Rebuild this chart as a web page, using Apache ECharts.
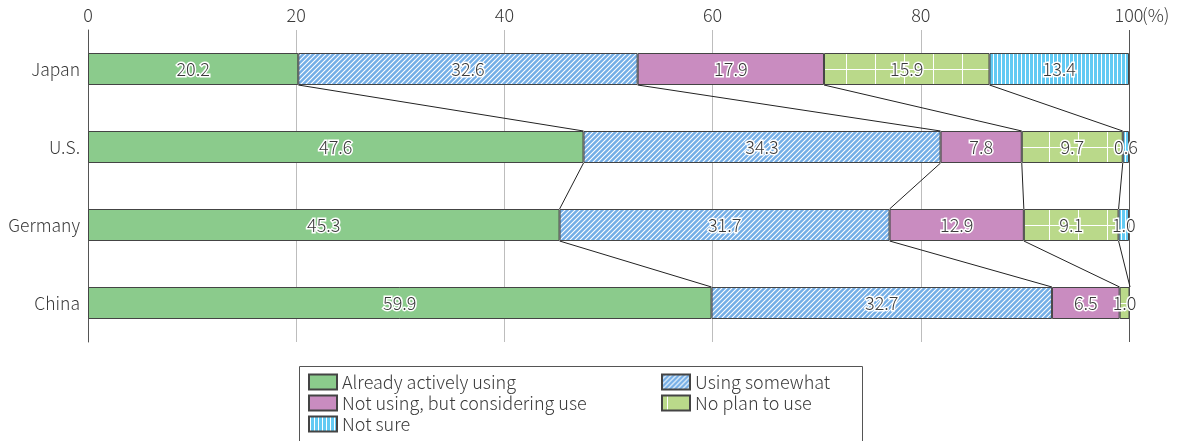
<!DOCTYPE html>
<html>
<head>
<meta charset="utf-8">
<script src="https://cdn.jsdelivr.net/npm/echarts@6/dist/echarts.min.js"></script>
<style>
  html, body { margin: 0; padding: 0; background: #fff; }
  #chart { width: 1181px; height: 441px; }
</style>
</head>
<body>
<div id="chart"></div>
<script>
// Share of respondents by usage status (%)
const countries = ['Japan', 'U.S.', 'Germany', 'China'];
const seriesNames = [
  'Already actively using',
  'Using somewhat',
  'Not using, but considering use',
  'No plan to use',
  'Not sure'
];
const alreadyUsing = [20.2, 47.6, 45.3, 59.9];
const usingSomewhat = [32.6, 34.3, 31.7, 32.7];
const considering = [17.9, 7.8, 12.9, 6.5];
const noPlan = [15.9, 9.7, 9.1, 1.0];
const notSure = [13.4, 0.6, 1.0, null];
const xTicks = [0, 20, 40, 60, 80, 100];

const FONT = '"Noto Sans CJK JP", "Noto Sans", sans-serif';
const WEIGHT = 300;
const TEXT = '#3a3a3a';
const BAR_W = 32;

function makeTile(w, h, bg, draw) {
  const c = document.createElement('canvas');
  c.width = w; c.height = h;
  const g = c.getContext('2d');
  g.fillStyle = bg;
  g.fillRect(0, 0, w, h);
  g.strokeStyle = '#ffffff';
  draw(g);
  return c;
}

// diagonal white hatching on blue
const hatchTile = makeTile(5, 5, '#74aee6', g => {
  g.lineWidth = 1.1;
  g.beginPath();
  g.moveTo(-1, 6); g.lineTo(6, -1);
  g.moveTo(-1, 1); g.lineTo(1, -1);
  g.moveTo(4, 6); g.lineTo(6, 4);
  g.stroke();
});
// white grid on light green
const gridTile = makeTile(29, 78, '#bad98a', g => {
  g.lineWidth = 1;
  g.beginPath();
  g.moveTo(5.5, 0); g.lineTo(5.5, 78);
  g.moveTo(0, 69.5); g.lineTo(29, 69.5);
  g.stroke();
});
// vertical white stripes on cyan
const stripeTile = makeTile(4, 4, '#62caf3', g => {
  g.lineWidth = 1;
  g.beginPath();
  g.moveTo(1.5, 0); g.lineTo(1.5, 4);
  g.stroke();
});

const fills = [
  '#8bcb8c',
  { image: hatchTile, repeat: 'repeat' },
  '#c98cc0',
  { image: gridTile, repeat: 'repeat' },
  { image: stripeTile, repeat: 'repeat' }
];
const values = [alreadyUsing, usingSomewhat, considering, noPlan, notSure];

// cumulative boundaries per country after each segment
const cum = countries.map((_, ci) => {
  let s = 0;
  return values.map(v => { s += (v[ci] || 0); return +s.toFixed(1); });
});
// connector segments between neighbouring bars (inner boundaries only)
const connectors = [];
for (let ci = 0; ci < countries.length - 1; ci++) {
  for (let k = 0; k < values.length - 1; k++) {
    connectors.push([ci, cum[ci][k], cum[ci + 1][k]]);
  }
}

const barSeries = seriesNames.map((name, i) => ({
  name: name,
  type: 'bar',
  stack: 'total',
  barWidth: BAR_W,
  data: values[i],
  itemStyle: { color: fills[i], borderColor: '#444', borderWidth: 1 },
  label: {
    show: true,
    position: 'inside',
    formatter: p => (p.value == null ? '' : Number(p.value).toFixed(1)),
    fontFamily: FONT,
    fontWeight: WEIGHT,
    fontSize: 18,
    color: TEXT,
    textBorderColor: '#fff',
    textBorderWidth: 3
  },
  emphasis: { disabled: true }
}));

const connectorSeries = {
  type: 'custom',
  name: 'connectors',
  data: connectors,
  encode: { x: [1, 2], y: 0 },
  silent: true,
  z: 3,
  renderItem: (params, api) => {
    const ci = api.value(0);
    const p1 = api.coord([api.value(1), ci]);
    const p2 = api.coord([api.value(2), ci + 1]);
    return {
      type: 'line',
      shape: { x1: p1[0], y1: p1[1] + BAR_W / 2, x2: p2[0], y2: p2[1] - BAR_W / 2 },
      style: { stroke: '#222', lineWidth: 1 }
    };
  }
};

const legendBase = {
  orient: 'vertical', top: 373, height: 120, padding: 0,
  icon: 'rect',
  itemWidth: 28, itemHeight: 15, itemGap: 3,
  textStyle: { fontFamily: FONT, fontWeight: WEIGHT, fontSize: 18, color: TEXT, lineHeight: 15 },
  selectedMode: false
};

const chart = echarts.init(document.getElementById('chart'), null, { renderer: 'canvas' });
chart.setOption({
  animation: false,
  textStyle: { fontFamily: FONT },
  grid: { left: 88, right: 52, top: 30, height: 312 },
  xAxis: {
    type: 'value',
    position: 'top',
    min: 0, max: 100, interval: 20,
    axisLine: { show: false },
    axisTick: { show: false },
    axisLabel: { fontFamily: FONT, fontWeight: WEIGHT, fontSize: 18, color: TEXT, margin: 6,
      formatter: v => xTicks.indexOf(v) >= 0 ? String(v) : '' },
    splitLine: { show: true, lineStyle: { color: ['#555', '#bdbdbd', '#bdbdbd', '#bdbdbd', '#bdbdbd', '#555'], width: 1 } }
  },
  yAxis: {
    type: 'category',
    inverse: true,
    data: countries,
    axisLine: { show: true, lineStyle: { color: '#555', width: 1 } },
    axisTick: { show: false },
    axisLabel: { fontFamily: FONT, fontWeight: WEIGHT, fontSize: 17.5, color: TEXT, margin: 8 }
  },
  legend: [
    Object.assign({}, legendBase, { left: 308, data: [seriesNames[0], seriesNames[2], seriesNames[4]] }),
    Object.assign({}, legendBase, { left: 661, data: [seriesNames[1], seriesNames[3]] })
  ],
  graphic: [
    { type: 'rect', left: 297, top: 364, shape: { width: 563, height: 76 },
      style: { fill: 'none', stroke: '#555', lineWidth: 1 }, silent: true },
    { type: 'text', left: 1142, top: 6,
      style: { text: '(%)', font: WEIGHT + ' 18px ' + FONT, fill: TEXT }, silent: true }
  ],
  series: barSeries.concat([connectorSeries])
});
</script>
</body>
</html>
